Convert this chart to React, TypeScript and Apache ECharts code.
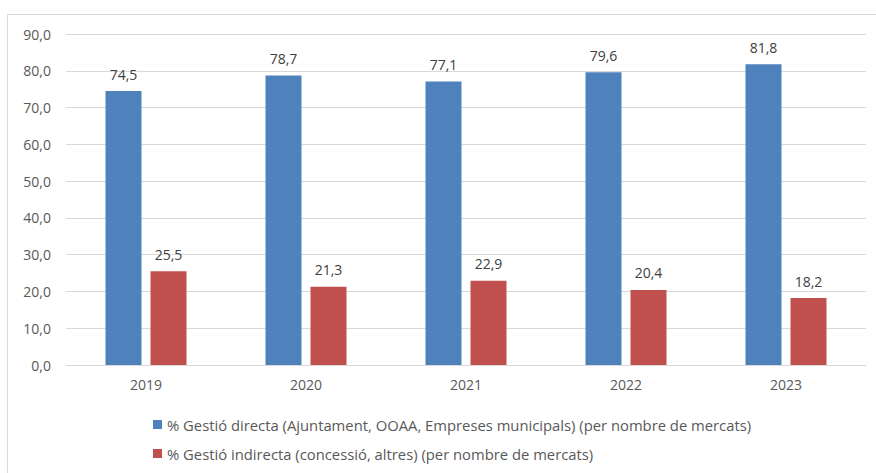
import React, { useEffect, useRef } from "react";
import * as echarts from "echarts";

const categories = ["2019", "2020", "2021", "2022", "2023"];
const directa = [74.5, 78.7, 77.1, 79.6, 81.8];
const indirecta = [25.5, 21.3, 22.9, 20.4, 18.2];
const seriesNames = [
  "% Gestió directa (Ajuntament, OOAA, Empreses municipals) (per nombre de mercats)",
  "% Gestió indirecta (concessió, altres) (per nombre de mercats)",
];

const fmt = (v: number) => v.toFixed(1).replace(".", ",");
const FONT = "Open Sans";

export default function App() {
  const ref = useRef<HTMLDivElement>(null);
  useEffect(() => {
    if (!ref.current) return;
    const chart = echarts.init(ref.current, undefined, { renderer: "svg" });
    chart.setOption({
      animation: false,
      backgroundColor: "#ffffff",
      textStyle: { fontFamily: FONT },
      graphic: [
        {
          type: "rect",
          shape: { x: 7.5, y: 14.5, width: 900, height: 500 },
          style: { fill: "none", stroke: "#D9D9D9", lineWidth: 1 },
          silent: true,
        },
      ],
      grid: { left: 66, right: 10, top: 34, bottom: 108 },
      legend: {
        orient: "vertical",
        left: 148,
        top: 412,
        itemWidth: 9,
        itemHeight: 9,
        itemGap: 14,
        icon: "rect",
        textStyle: { fontFamily: FONT, fontSize: 14.8, color: "#595959" },
        data: seriesNames,
      },
      xAxis: {
        type: "category",
        data: categories,
        axisLine: { lineStyle: { color: "#D9D9D9", width: 1 } },
        axisTick: { show: false },
        axisLabel: { color: "#595959", fontSize: 14, fontFamily: FONT, margin: 12 },
      },
      yAxis: {
        type: "value",
        min: 0,
        max: 90,
        interval: 10,
        axisLine: { show: false },
        axisTick: { show: false },
        splitLine: { lineStyle: { color: "#D9D9D9", width: 1 } },
        axisLabel: {
          color: "#595959",
          fontSize: 14,
          fontFamily: FONT,
          margin: 15,
          formatter: (v: number) => fmt(v),
        },
      },
      series: [
        {
          name: seriesNames[0],
          type: "bar",
          data: directa,
          barWidth: 36,
          barGap: "25%",
          itemStyle: { color: "#4F81BD" },
          label: {
            show: true,
            position: "top",
            distance: 10,
            color: "#404040",
            fontSize: 14,
            fontFamily: FONT,
            formatter: (p: any) => fmt(p.value),
          },
        },
        {
          name: seriesNames[1],
          type: "bar",
          data: indirecta,
          barWidth: 36,
          itemStyle: { color: "#C0504D" },
          label: {
            show: true,
            position: "top",
            distance: 10,
            color: "#404040",
            fontSize: 14,
            fontFamily: FONT,
            formatter: (p: any) => fmt(p.value),
          },
        },
      ],
    });
    return () => chart.dispose();
  }, []);
  return (
    <div
      ref={ref}
      style={{ position: "fixed", left: 0, top: 0, width: 876, height: 473 }}
    />
  );
}
